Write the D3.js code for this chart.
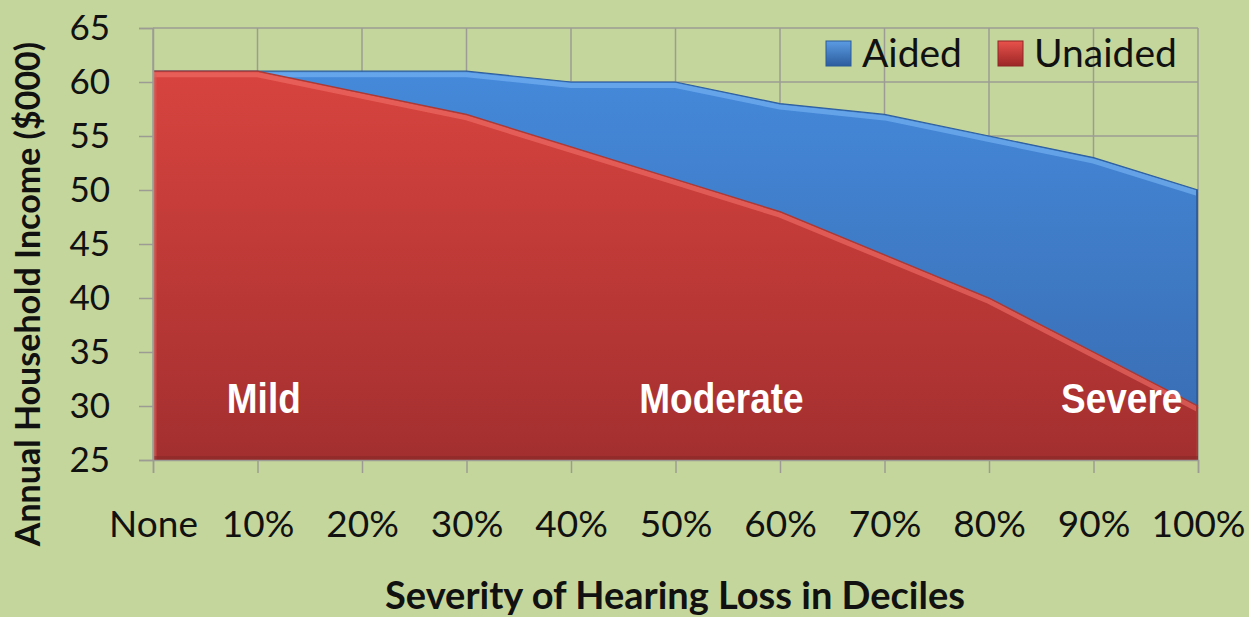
<!DOCTYPE html>
<html>
<head>
<meta charset="utf-8">
<script src="https://cdn.jsdelivr.net/npm/d3@7"></script>
<style>
  body { margin: 0; background: #c4d69b; }
  svg { display: block; }
  .tick text { font-family: Lato, "Open Sans", sans-serif; fill: #111; }
</style>
</head>
<body>
<script>
window.onload = function(){

    // Width and Height for container
    var w = 1249, h = 617;

    // Chart data
    var categories = ["None", "10%", "20%", "30%", "40%", "50%", "60%", "70%", "80%", "90%", "100%"];
    var aided   = [61, 61, 61, 61, 60, 60, 58, 57, 55, 53, 50];
    var unaided = [61, 61, 59, 57, 54, 51, 48, 44, 40, 35, 30];
    var yTicks  = [25, 30, 35, 40, 45, 50, 55, 60, 65];
    var seriesNames = ["Aided", "Unaided"];
    var notes = ["Mild", "Moderate", "Severe"];
    var notePos = [1.06, 5.44, 9.27]; // position along the category index

    var svg = d3.select("body")
        .append("svg")
        .attr("width", w)
        .attr("height", h);

    var defs = svg.append("defs");

    function grad(id, top, bottom){
        var g = defs.append("linearGradient")
            .attr("id", id)
            .attr("x1", 0).attr("y1", 0)
            .attr("x2", 0).attr("y2", 1);
        g.append("stop").attr("offset", "0%").attr("stop-color", top);
        g.append("stop").attr("offset", "100%").attr("stop-color", bottom);
    }
    grad("gBlue", "#4589da", "#386bb0");
    grad("gRed", "#d8443f", "#a32f2f");
    grad("lBlue", "#5b9be3", "#2c5d9e");
    grad("lRed", "#e9524c", "#9b2626");

    // Scales
    var x = d3.scalePoint()
        .domain(categories)
        .range([153, 1198]);

    var xi = d3.scaleLinear()
        .domain([0, categories.length - 1])
        .range([153, 1198]);

    var y = d3.scaleLinear()
        .domain([25, 65])
        .range([460, 28]);

    // Gridlines
    svg.append("g")
        .selectAll("line")
        .data(yTicks)
        .enter()
        .append("line")
        .attr("x1", 153).attr("x2", 1198)
        .attr("y1", function(d){ return y(d); })
        .attr("y2", function(d){ return y(d); })
        .style("stroke", "#9c9c94")
        .style("stroke-width", 1.5);

    svg.append("g")
        .selectAll("line")
        .data(categories)
        .enter()
        .append("line")
        .attr("x1", function(d){ return x(d); })
        .attr("x2", function(d){ return x(d); })
        .attr("y1", y(65)).attr("y2", y(25))
        .style("stroke", "#9c9c94")
        .style("stroke-width", 1.5);

    // Areas
    function series(vals){
        return categories.map(function(c, i){ return { c: c, v: vals[i] }; });
    }

    var area = d3.area()
        .x(function(d){ return x(d.c); })
        .y0(y(25))
        .y1(function(d){ return y(d.v); });

    var line = d3.line()
        .x(function(d){ return x(d.c); })
        .y(function(d){ return y(d.v); });

    [[aided, "gBlue", "#7cb8f5", "#2f5f9e"], [unaided, "gRed", "#f27069", "#a83a36"]].forEach(function(s){
        var data = series(s[0]);
        svg.append("path")
            .datum(data)
            .attr("d", area)
            .style("fill", "url(#" + s[1] + ")");
        // bevel highlight
        svg.append("path")
            .datum(data)
            .attr("d", line)
            .attr("transform", "translate(0,3.5)")
            .style("fill", "none")
            .style("stroke", s[2])
            .style("stroke-width", 5)
            .style("stroke-linejoin", "round")
            .style("opacity", 0.6);
        svg.append("path")
            .datum(data)
            .attr("d", line)
            .style("fill", "none")
            .style("stroke", s[3])
            .style("stroke-width", 1.2);
        // right edge
        svg.append("line")
            .attr("x1", x("100%") - 1).attr("x2", x("100%") - 1)
            .attr("y1", y(s[0][s[0].length - 1])).attr("y2", y(25))
            .style("stroke", s[3])
            .style("stroke-width", 2);
    });

    // Left bevel of the front area
    svg.append("line")
        .attr("x1", x("None") + 2).attr("x2", x("None") + 2)
        .attr("y1", y(unaided[0]) + 3).attr("y2", y(25))
        .style("stroke", "#e35a54")
        .style("stroke-width", 3)
        .style("opacity", 0.6);

    // Bottom shadow
    svg.append("rect")
        .attr("x", 153).attr("y", y(25) - 4)
        .attr("width", 1045).attr("height", 4)
        .style("fill", "#8a2a2a")
        .style("opacity", 0.6);

    // Axes
    var yAxis = d3.axisLeft(y)
        .tickValues(yTicks)
        .tickSize(14)
        .tickPadding(29);

    svg.append("g")
        .attr("transform", "translate(153,0)")
        .call(yAxis)
        .call(function(g){
            g.select(".domain").style("stroke", "#9c9c94").style("stroke-width", 1.5);
            g.selectAll(".tick line").style("stroke", "#9c9c94").style("stroke-width", 1.5);
            g.selectAll("text").style("font-size", "35px");
        });

    var xAxis = d3.axisBottom(x)
        .tickSize(13)
        .tickPadding(38);

    svg.append("g")
        .attr("transform", "translate(0," + y(25) + ")")
        .call(xAxis)
        .call(function(g){
            g.select(".domain").style("stroke", "#9c9c94").style("stroke-width", 1.5);
            g.selectAll(".tick line").style("stroke", "#9c9c94").style("stroke-width", 1.5);
            g.selectAll("text").style("font-size", "37px");
        });

    // Axis titles
    svg.append("text")
        .attr("x", 675)
        .attr("y", 609)
        .attr("text-anchor", "middle")
        .style("font-family", "Lato, 'Open Sans', sans-serif")
        .style("font-weight", "bold")
        .style("font-size", "38px")
        .style("fill", "#111")
        .text("Severity of Hearing Loss in Deciles");

    svg.append("text")
        .attr("transform", "translate(40,294) rotate(-90)")
        .attr("text-anchor", "middle")
        .style("font-family", "Lato, 'Open Sans', sans-serif")
        .style("font-weight", "bold")
        .style("font-size", "34px")
        .style("fill", "#111")
        .text("Annual Household Income ($000)");

    // Severity labels (condensed)
    svg.selectAll(".note")
        .data(notes)
        .enter()
        .append("text")
        .attr("class", "note")
        .attr("transform", function(d, i){
            return "translate(" + xi(notePos[i]) + "," + y(29.35) + ") scale(0.86,1)";
        })
        .attr("text-anchor", "middle")
        .style("font-family", "'Liberation Sans', Arial, sans-serif")
        .style("font-weight", "bold")
        .style("font-size", "43px")
        .style("fill", "#fff")
        .text(function(d){ return d; });

    // Legend
    var legend = svg.append("g")
        .selectAll("g")
        .data(seriesNames)
        .enter()
        .append("g")
        .attr("transform", function(d, i){ return "translate(" + (826 + i * 172) + ",41)"; });

    legend.append("rect")
        .attr("width", 25).attr("height", 25)
        .style("fill", function(d, i){ return i === 0 ? "url(#lBlue)" : "url(#lRed)"; })
        .style("stroke", function(d, i){ return i === 0 ? "#2b5a96" : "#8e2727"; })
        .style("stroke-width", 1);

    legend.append("text")
        .attr("x", 36)
        .attr("y", 26)
        .style("font-family", "Lato, 'Open Sans', sans-serif")
        .style("font-size", "39px")
        .style("fill", "#111")
        .text(function(d){ return d; });
};
</script>
</body>
</html>
